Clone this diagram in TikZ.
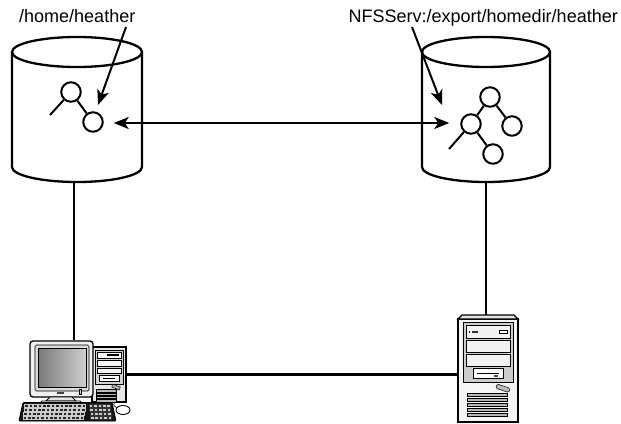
\documentclass[tikz,border=0pt]{standalone}
\usepackage{fontspec}
\setmainfont{Liberation Sans}
\usetikzlibrary{arrows.meta,calc}
\begin{document}
\begin{tikzpicture}[x=1pt,y=-1pt,
  vol/.style={line width=2.3pt},
  treenode/.style={circle,draw,line width=2pt,minimum size=19.5pt,inner sep=0pt},
  treeline/.style={line width=2pt},
  link/.style={line width=2.2pt},
  tip/.tip={Stealth[length=15pt,width=12pt,inset=4pt]},
  pointer/.style={line width=2pt,-tip},
  pathtext/.style={font=\fontsize{18}{20}\selectfont,inner sep=0pt},
  devbody/.style={draw,line width=1.3pt,inner sep=0pt},
  thin/.style={draw,line width=0.6pt},
]
\useasboundingbox (0,0) rectangle (621,423);

% ---------- local volume ----------
\draw[vol] (12,52) -- (12,167)
  .. controls (12,175.3) and (41.1,182) .. (77,182)
  .. controls (112.9,182) and (142,175.3) .. (142,167) -- (142,52);
\draw[vol] (77,52) ellipse [x radius=65, y radius=15];
\coordinate (lbot) at (74,182);

\node[treenode] (lc1) at (71,92) {};
\node[treenode] (lc2) at (93,122) {};
\coordinate (lstub) at (50,115);
\draw[treeline] (lc1) -- (lc2);
\draw[treeline] (lc1) -- (lstub);

% ---------- exported volume ----------
\draw[vol] (422,52) -- (422,167)
  .. controls (422,175.3) and (450.7,182) .. (486,182)
  .. controls (521.3,182) and (550,175.3) .. (550,167) -- (550,52);
\draw[vol] (486,52) ellipse [x radius=64, y radius=15];
\coordinate (rbot) at (486,182);

\node[treenode] (rt)  at (490,97)  {};
\node[treenode] (rml) at (471,124) {};
\node[treenode] (rr)  at (512,126) {};
\node[treenode] (rb)  at (493,154) {};
\coordinate (rstub) at (449,149);
\draw[treeline] (rt) -- (rml);
\draw[treeline] (rt) -- (rr);
\draw[treeline] (rml) -- (rb);
\draw[treeline] (rml) -- (rstub);

% ---------- path labels ----------
\node[pathtext,anchor=base west] (homelbl) at (19,23) {/home/heather};
\node[pathtext,anchor=base east] (nfslbl) at (618,23) {NFSServ:/export/homedir/heather};
\coordinate (homefrom) at (126,27);
\coordinate (hometo) at (98,105);
\coordinate (nfsfrom) at (412,27);
\coordinate (nfsto) at (442,105);
\draw[pointer] (homefrom) -- (hometo);
\draw[pointer] (nfsfrom) -- (nfsto);

% mount link
\draw[line width=2pt,tip-tip] ($(lc2.east)+(10,1)$) -- ($(rml.west)+(-11,-1)$);

% ---------- device bodies ----------
\node[devbody,fill=gray!18,minimum width=34pt,minimum height=55pt] (tower) at (109,374.5) {};
\node[devbody,fill=gray!12,rounded corners=3pt,minimum width=63pt,minimum height=56pt] (monitor) at (61.5,369) {};
\node[devbody,fill=gray!8,minimum width=60pt,minimum height=103pt] (server) at (488,370.5) {};

% ---------- network ----------
\draw[link] (lbot) -- (lbot |- monitor.north);
\draw[link] (rbot) -- (rbot |- server.north);
\draw[link] (tower.east) -- (tower.east -| server.west);

% ---------- workstation details ----------
% tower front
\draw[thin,fill=gray!35] (95,350) rectangle (123,384);
\draw[thin,fill=gray!8] (97,352) rectangle (121,358);
\fill[black] (107,354.3) rectangle (119,355.8);
\draw[thin,fill=gray!8] (97,360) rectangle (121,366);
\draw[thin,fill=gray!8] (97,368) rectangle (121,373);
\draw[thin,fill=white] (99,375) rectangle (119,381.5);
\fill[black] (103,377.5) rectangle (115,379);
\draw[line width=0.5pt,fill=gray!55,rotate around={-20:(116,387)}] (112,385.5) rectangle (120,388.5);
\foreach \v in {389.5,392.8,396.1,399.4}
  \draw[line width=0.4pt,fill=gray!55] (96,\v) rectangle (116,\v+2.4);

% monitor front
\draw[line width=0.7pt,fill=gray!28,rounded corners=1.5pt] (35,345) rectangle (89,391);
\shade[left color=gray!95!black,right color=gray!38] (38,348) rectangle (86,387);
\draw[line width=0.6pt] (38,348) rectangle (86,387);
\fill[black!75] (57,391.8) rectangle (64,394.2);
\draw[line width=0.4pt,fill=gray!40] (79,389.5) rectangle (81.5,394);
% stand
\draw[line width=0.8pt,fill=gray!22] (50,397) -- (72,397) -- (76,401) -- (46,401) -- cycle;
\draw[line width=0.8pt,fill=gray!15,rounded corners=1pt] (41,401) rectangle (81,404);

% keyboard
\draw[line width=0.9pt,fill=black!92,rounded corners=1pt] (23,402.5) -- (112,402.5) -- (116,421) -- (19,421) -- cycle;
\foreach \r in {0,1,2,3}{
  \foreach \c in {0,...,13}{
    \draw[line width=0.3pt,draw=gray!40,fill=black!85]
      ({24.5+\c*4.4-\r*0.6},{404.5+\r*4}) rectangle ++(3.6,3);
  }
}
\foreach \r in {0,1,2,3}{
  \foreach \c in {0,...,4}{
    \draw[line width=0.3pt,draw=black!80,fill=gray!40]
      ({89+\c*4.4+\r*0.4},{404.5+\r*4}) rectangle ++(3.6,3);
  }
}
% mouse
\draw[line width=0.6pt] (117,408) .. controls (113,405) .. (115,402);
\draw[line width=0.9pt,fill=white] (123,410) ellipse [x radius=7, y radius=4.5];

% ---------- server details ----------
\draw[line width=1.3pt,fill=gray!22] (458,319) -- (462,315) -- (514,315) -- (518,319) -- cycle;
\draw[line width=0.7pt,fill=gray!40] (463,322) rectangle (513,382);
\draw[thin,fill=gray!10] (466,325) rectangle (510,338);
\fill[black] (469.5,332) circle (0.9);
\fill[black!80] (472,331) rectangle (478,333);
\draw[line width=0.5pt,fill=white] (499,330) rectangle (507,333.5);
\draw[thin,fill=gray!10] (466,340) rectangle (510,352);
\draw[thin,fill=gray!10] (466,354) rectangle (510,366);
\draw[thin,fill=white] (473,368) rectangle (503,378);
\fill[black] (477,372.5) rectangle (499,374.2);
\fill[black!70] (494,375) rectangle (498,377);
\draw[line width=0.5pt,fill=gray!55,rounded corners=1.5pt,rotate around={-18:(503,388)}] (496,386) rectangle (510,390.5);
\foreach \v in {393,398,403,408,413}
  \draw[line width=0.5pt,fill=gray!55] (467,\v) rectangle (507,\v+3.6);

\end{tikzpicture}
\end{document}
